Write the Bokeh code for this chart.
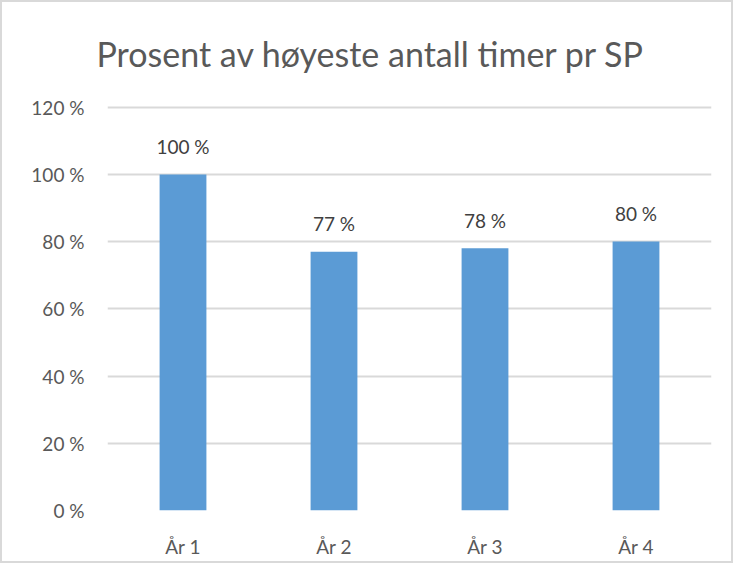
from bokeh.plotting import figure
from bokeh.models import ColumnDataSource, LabelSet, Range1d, FixedTicker
from bokeh.core.properties import value
from bokeh.embed import file_html
from bokeh.resources import INLINE

title_text = "Prosent av høyeste antall timer pr SP"
categories = ["År 1", "År 2", "År 3", "År 4"]
values = [100, 77, 78, 80]
value_labels = ["100 %", "77 %", "78 %", "80 %"]
y_ticks = [0, 20, 40, 60, 80, 100, 120]
y_tick_labels = ["0 %", "20 %", "40 %", "60 %", "80 %", "100 %", "120 %"]

FONT = "Lato"
GRID = "#d9d9d9"
TXT = "#595959"

src = ColumnDataSource(dict(cat=categories, val=values, lab=value_labels))

p = figure(x_range=categories, y_range=Range1d(0, 120.5),
           width=733, height=563, output_backend="svg", toolbar_location=None,
           min_border_left=105, min_border_right=24, min_border_top=102,
           min_border_bottom=55,
           styles={"border": "2px solid #d9d9d9"})
p.x_range.range_padding = 0
p.outline_line_color = None
p.background_fill_color = "white"
p.border_fill_color = "white"

p.title.text = title_text
p.title.align = "left"
p.title.vertical_align = "top"
p.title.offset = -11
p.title.standoff = 60
p.title.text_font = FONT
p.title.text_font_size = "34px"
p.title.text_font_style = "normal"
p.title.text_color = TXT

p.vbar(x="cat", top="val", width=0.31, source=src, fill_color="#5b9bd5",
       line_color=None)

p.add_layout(LabelSet(x="cat", y="val", text="lab", source=src, y_offset=28,
                      text_align="center", text_baseline="middle",
                      text_font=value(FONT), text_font_size="19px",
                      text_color="#404040"))

p.yaxis.ticker = FixedTicker(ticks=y_ticks)
p.yaxis.major_label_overrides = {t: l for t, l in zip(y_ticks, y_tick_labels)}
p.yaxis.axis_line_color = None
p.yaxis.major_tick_line_color = None
p.yaxis.minor_tick_line_color = None
p.yaxis.major_label_standoff = 17
p.yaxis.major_label_text_font = FONT
p.yaxis.major_label_text_font_size = "19px"
p.yaxis.major_label_text_color = TXT

p.xaxis.axis_line_color = None
p.xaxis.major_tick_line_color = None
p.xaxis.minor_tick_line_color = None
p.xaxis.major_label_standoff = 18
p.xaxis.major_label_text_font = FONT
p.xaxis.major_label_text_font_size = "19px"
p.xaxis.major_label_text_color = TXT

p.xgrid.grid_line_color = None
p.ygrid.ticker = FixedTicker(ticks=y_ticks)
p.ygrid.grid_line_color = GRID
p.ygrid.grid_line_width = 2

open("out.html", "w").write(file_html(p, INLINE))
